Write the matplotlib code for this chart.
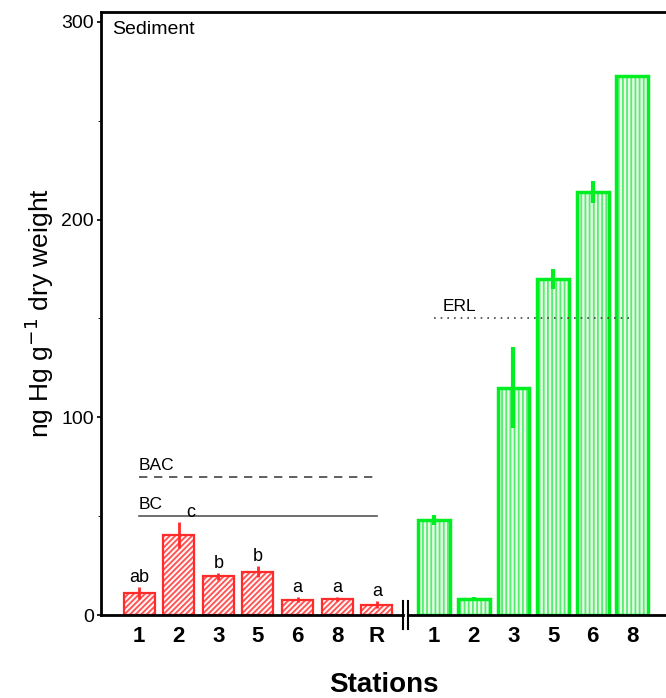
import numpy as np
import matplotlib.pyplot as plt

plt.rcParams['font.family'] = ['Liberation Sans', 'DejaVu Sans']
plt.rcParams['hatch.linewidth'] = 1.3

# Left group (red)
left_labels = ['1', '2', '3', '5', '6', '8', 'R']
left_vals = [11, 40.5, 19.5, 22, 7.8, 8.2, 5.2]
left_err = [3, 6.5, 2, 2.8, 1.2, 1, 1.8]
left_letters = ['ab', 'c', 'b', 'b', 'a', 'a', 'a']

# Right group (green)
right_labels = ['1', '2', '3', '5', '6', '8']
right_vals = [48, 8, 115, 170, 214, 272.5]
right_err = [2.5, 1, 20.5, 5, 5.5, 0]

bac, bc, erl = 70, 50, 150

fig = plt.figure(figsize=(6.66, 6.98), dpi=100)
ax = fig.add_axes([0.1517, 0.1189, 0.8483, 0.8639])

xl = np.arange(len(left_vals))
xr = np.arange(len(right_vals)) + len(left_vals) + 0.45
red = '#ff2a2a'
green = '#00ee22'

ax.bar(xl, left_vals, width=0.78, color='#fff4f4', edgecolor='#ff5050',
       hatch='//////', linewidth=0, zorder=2)
ax.bar(xl, left_vals, width=0.78, fill=False, edgecolor=red,
       linewidth=1.6, zorder=2)
ax.errorbar(xl, left_vals, yerr=left_err, fmt='none', ecolor=red,
            elinewidth=2, capsize=0, zorder=3)
for x, v, e, t in zip(xl, left_vals, left_err, left_letters):
    dx = 0.3 if t == 'c' else 0
    ax.text(x + dx, v + e + 0.5, t, ha='center', va='bottom', fontsize=13)

ax.bar(xr, right_vals, width=0.8, color='#e6fae6', edgecolor='#55ee70',
       hatch='||||', linewidth=0, zorder=2)
ax.bar(xr, right_vals, width=0.8, fill=False, edgecolor=green,
       linewidth=2.5, zorder=2)
ax.errorbar(xr, right_vals, yerr=right_err, fmt='none', ecolor=green,
            elinewidth=3, capsize=0, zorder=3)

# reference lines
ax.plot([xl[0], xl[-1]], [bac, bac], ls=(0, (5, 4)), color='#444444', lw=1.2)
ax.plot([xl[0], xl[-1]], [bc, bc], ls='-', color='#555555', lw=1.2)
ax.text(xl[0], bac + 2, 'BAC', fontsize=12.5, va='bottom')
ax.text(xl[0], bc + 2, 'BC', fontsize=12.5, va='bottom')
ax.plot([xr[0], xr[-1]], [erl, erl], ls=(0, (1, 3)), color='#444444', lw=1.2)
ax.text(xr[0] + 0.2, erl + 2, 'ERL', fontsize=12.5, va='bottom')

ax.text(0.02, 0.985, 'Sediment', transform=ax.transAxes, fontsize=14,
        va='top', ha='left')

ax.set_xlim(-0.96, 13.3)
ax.set_ylim(0, 305)
ax.set_yticks([0, 100, 200, 300])
ax.set_yticks([50, 150, 250], minor=True)
ax.tick_params(axis='y', labelsize=14, length=3, width=1.2, pad=2)
ax.tick_params(axis='y', which='minor', length=2)
ax.set_xticks(np.concatenate([xl, xr]))
ax.set_xticklabels(left_labels + right_labels, fontsize=16, fontweight='bold')
ax.tick_params(axis='x', length=0, pad=8)

for s in ['left', 'top']:
    ax.spines[s].set_linewidth(2)
ax.spines['right'].set_visible(False)
ax.spines['bottom'].set_visible(False)

# broken bottom axis
brk = (xl[-1] + xr[0]) / 2
g = 0.07
ax.plot([-0.96, brk - g], [0, 0], color='black', lw=2, clip_on=False)
ax.plot([brk + g, 13.3], [0, 0], color='black', lw=2, clip_on=False)
for bx in (brk - g, brk + g):
    ax.plot([bx, bx], [-7, 7], color='black', lw=1.5, clip_on=False)

ax.set_ylabel('ng Hg g$^{-1}$ dry weight', fontsize=19, labelpad=4)
ax.set_xlabel('Stations', fontsize=20, fontweight='bold', labelpad=18)

fig.savefig('out.png', dpi=100)
